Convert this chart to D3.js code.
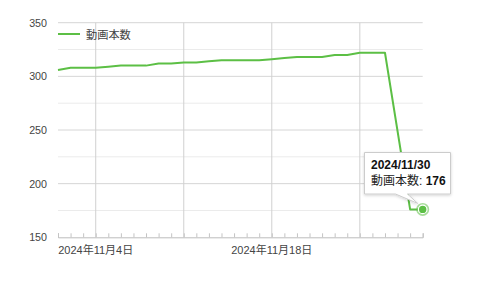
<!DOCTYPE html>
<html><head><meta charset="utf-8">
<script src="https://cdn.jsdelivr.net/npm/d3@7"></script>
<style>body{margin:0;background:#fff;}svg{display:block;font-family:"Liberation Sans","Noto Sans CJK JP",Arial,sans-serif;}</style>
</head><body><svg id="c" width="480" height="283"></svg>
<script>
const dates = ["2024-11-01","2024-11-02","2024-11-03","2024-11-04","2024-11-05","2024-11-06","2024-11-07","2024-11-08","2024-11-09","2024-11-10","2024-11-11","2024-11-12","2024-11-13","2024-11-14","2024-11-15","2024-11-16","2024-11-17","2024-11-18","2024-11-19","2024-11-20","2024-11-21","2024-11-22","2024-11-23","2024-11-24","2024-11-25","2024-11-26","2024-11-27","2024-11-29","2024-11-30"];
const counts = [306,308,308,308,309,310,310,310,312,312,313,313,314,315,315,315,315,316,317,318,318,318,320,320,322,322,322,176,176];
const yTicks = [150,200,250,300,350];
const yMinor = [175,225,275,325];
const xLabelDates = ["2024-11-04","2024-11-18"];
const xGridDates = ["2024-11-04","2024-11-11","2024-11-18","2024-11-25"];
const seriesName = "動画本数";
const tipDate = "2024/11/30";
const tipValue = 176;

const parse = d3.timeParse("%Y-%m-%d");
const data = dates.map((d,i)=>({date:parse(d), v:counts[i]}));
const svg = d3.select("#c");
const L=58, R=422.7, T=22.7, B=237.3;
const x = d3.scaleTime().domain([parse("2024-11-01"), parse("2024-11-30")]).range([L,R]);
const y = d3.scaleLinear().domain([150,350]).range([B,T]);
const green = "#5cbf45";

// minor horizontal gridlines
svg.append("g").selectAll("line").data(yMinor).join("line")
  .attr("x1",L).attr("x2",R).attr("y1",d=>y(d)).attr("y2",d=>y(d))
  .attr("stroke","#ebebeb").attr("stroke-width",1);
// major horizontal gridlines
svg.append("g").selectAll("line").data(yTicks.filter(d=>d!==150)).join("line")
  .attr("x1",L).attr("x2",R).attr("y1",d=>y(d)).attr("y2",d=>y(d))
  .attr("stroke","#d6d6d6").attr("stroke-width",1);
// vertical gridlines
svg.append("g").selectAll("line").data(xGridDates.map(parse)).join("line")
  .attr("x1",d=>x(d)).attr("x2",d=>x(d)).attr("y1",T).attr("y2",B)
  .attr("stroke","#d0d0d0").attr("stroke-width",1);

// bottom axis with daily ticks (upward)
const xAxis = d3.axisBottom(x).ticks(d3.timeDay.every(1)).tickSize(-4).tickFormat("");
const gx = svg.append("g").attr("transform",`translate(0,${B})`).call(xAxis);
gx.select(".domain").attr("stroke","#bdbdbd");
gx.selectAll(".tick line").attr("stroke","#c4c4c4");

// x labels
svg.append("g").selectAll("text").data(xLabelDates.map(parse)).join("text")
  .attr("x",d=>x(d)).attr("y",253.5).attr("text-anchor","middle")
  .attr("font-size","11px").attr("fill","#444")
  .text(d=>d3.timeFormat("%Y年%-m月%-d日")(d));

// y labels
svg.append("g").selectAll("text").data(yTicks).join("text")
  .attr("x",47).attr("y",d=>y(d)+4).attr("text-anchor","end")
  .attr("font-size","10.7px").attr("fill","#444").text(d=>d);

// line
const line = d3.line().x(d=>x(d.date)).y(d=>y(d.v));
svg.append("path").datum(data).attr("d",line).attr("fill","none")
  .attr("stroke",green).attr("stroke-width",2).attr("stroke-linejoin","round");

// legend
svg.append("line").attr("x1",58).attr("x2",80).attr("y1",34).attr("y2",34)
  .attr("stroke",green).attr("stroke-width",2);
svg.append("text").attr("x",86).attr("y",38.5).attr("font-size","11.2px").attr("fill","#444").text(seriesName);

// highlighted point
const last = data[data.length-1];
const px = x(last.date), py = y(last.v);
svg.append("circle").attr("cx",px).attr("cy",py).attr("r",6.5).attr("fill",green).attr("opacity",0.55);
svg.append("circle").attr("cx",px).attr("cy",py).attr("r",4.3).attr("fill",green).attr("stroke","#fff").attr("stroke-width",1.2);

// tooltip
const bx=364.5, by=152.5, bw=86, bh=41.5;
const defs = svg.append("defs");
const f = defs.append("filter").attr("id","sh").attr("x","-20%").attr("y","-20%").attr("width","140%").attr("height","150%");
f.append("feDropShadow").attr("dx",0).attr("dy",1).attr("stdDeviation",1.5).attr("flood-color","#000").attr("flood-opacity",0.18);
const tg = svg.append("g");
tg.append("path")
  .attr("d",`M${bx},${by} H${bx+bw} V${by+bh} H${bx+43} L${px-5},${py-6} L${bx+31},${by+bh} H${bx} Z`)
  .attr("fill","#fff").attr("stroke","#cccccc").attr("stroke-width",1).attr("filter","url(#sh)");
tg.append("text").attr("x",bx+6.5).attr("y",by+16.5).attr("font-size","12px").attr("font-weight","bold").attr("fill","#111").text(tipDate);
const t2 = tg.append("text").attr("x",bx+6.5).attr("y",by+32).attr("font-size","12px").attr("fill","#222");
t2.append("tspan").text(seriesName+": ");
t2.append("tspan").attr("font-weight","bold").attr("fill","#111").text(tipValue);
</script></body></html>
